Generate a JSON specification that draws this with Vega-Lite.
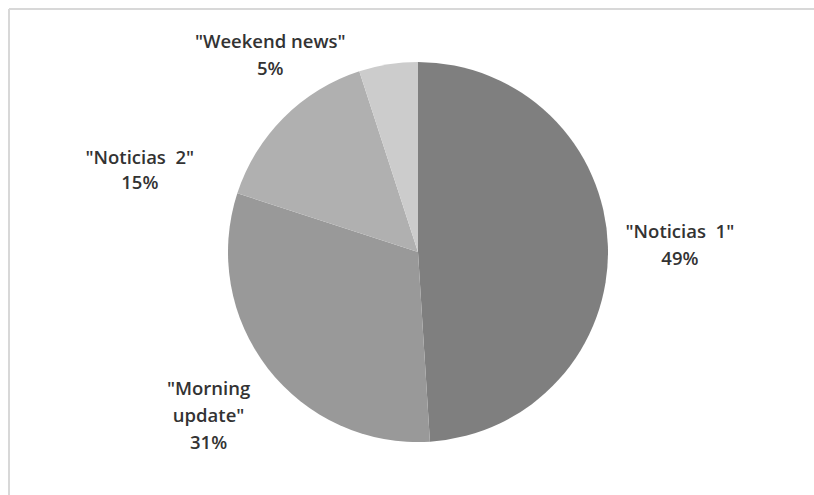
{
  "$schema": "https://vega.github.io/schema/vega-lite/v6.json",
  "width": 805,
  "height": 486,
  "autosize": {"type": "none"},
  "padding": {"left": 9, "top": 9, "right": 0, "bottom": 0},
  "background": "white",
  "view": {"stroke": null},
  "config": {"view": {"stroke": null}},
  "data": {
    "values": [
      {"label": "Noticias 1", "value": 49, "lines": ["\"Noticias\u00a0 1\"", "49%"]},
      {"label": "Morning update", "value": 31, "lines": ["\"Morning", "update\"", "31%"]},
      {"label": "Noticias 2", "value": 15, "lines": ["\"Noticias\u00a0 2\"", "15%"]},
      {"label": "Weekend news", "value": 5, "lines": ["\"Weekend news\"", "5%"]}
    ]
  },
  "encoding": {
    "theta": {"field": "value", "type": "quantitative", "stack": true},
    "order": {"field": "value", "type": "quantitative", "sort": "descending"}
  },
  "layer": [
    {
      "mark": {"type": "arc", "outerRadius": 190, "xOffset": 6.5},
      "encoding": {
        "color": {
          "field": "label",
          "type": "nominal",
          "scale": {
            "domain": ["Noticias 1", "Morning update", "Noticias 2", "Weekend news"],
            "range": ["#7f7f7f", "#999999", "#b0b0b0", "#cccccc"]
          },
          "legend": null
        }
      }
    },
    {
      "mark": {"type": "text", "radius": 262, "dx": 6.5, "dy": -12, "font": "Open Sans", "fontSize": 18.5, "fontWeight": 600, "color": "#333333", "lineHeight": 27, "baseline": "middle", "align": "center"},
      "encoding": {
        "text": {"field": "lines"},
        "opacity": {"condition": {"test": "datum.label === 'Noticias 1'", "value": 1}, "value": 0}
      }
    },
    {
      "mark": {"type": "text", "radius": 265, "dx": 6.5, "dy": -25, "font": "Open Sans", "fontSize": 18.5, "fontWeight": 600, "color": "#333333", "lineHeight": 27, "baseline": "middle", "align": "center"},
      "encoding": {
        "text": {"field": "lines"},
        "opacity": {"condition": {"test": "datum.label === 'Morning update'", "value": 1}, "value": 0}
      }
    },
    {
      "mark": {"type": "text", "radius": 290, "thetaOffset": -0.499, "dx": 6.5, "dy": -12, "font": "Open Sans", "fontSize": 18.5, "fontWeight": 600, "color": "#333333", "lineHeight": 25, "baseline": "middle", "align": "center"},
      "encoding": {
        "text": {"field": "lines"},
        "opacity": {"condition": {"test": "datum.label === 'Noticias 2'", "value": 1}, "value": 0}
      }
    },
    {
      "mark": {"type": "text", "radius": 246, "thetaOffset": -0.487, "dx": 6.5, "dy": -13, "font": "Open Sans", "fontSize": 18.5, "fontWeight": 600, "color": "#333333", "lineHeight": 27, "baseline": "middle", "align": "center"},
      "encoding": {
        "text": {"field": "lines"},
        "opacity": {"condition": {"test": "datum.label === 'Weekend news'", "value": 1}, "value": 0}
      }
    },
    {
      "mark": {"type": "rule", "color": "#d8d8d8", "strokeWidth": 2},
      "encoding": {"x": {"value": 0}}
    },
    {
      "mark": {"type": "rule", "color": "#d8d8d8", "strokeWidth": 2},
      "encoding": {"y": {"value": 0}}
    }
  ]
}
